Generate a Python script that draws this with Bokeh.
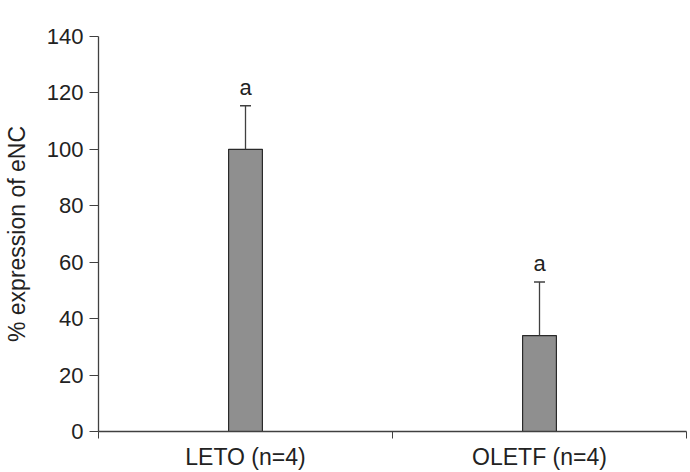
from bokeh.plotting import figure
from bokeh.models import ColumnDataSource, FixedTicker, Range1d
from bokeh.core.properties import value
from bokeh.embed import file_html
from bokeh.resources import INLINE

categories = ["LETO (n=4)", "OLETF (n=4)"]
means = [100, 34]
errors = [15.5, 19]
letters = ["a", "a"]

xpos = [i + 0.5 for i in range(len(categories))]
upper = [m + e for m, e in zip(means, errors)]

src = ColumnDataSource(dict(x=xpos, top=means, upper=upper, lab=letters))

p = figure(width=690, height=472, output_backend="svg", toolbar_location=None,
           x_range=Range1d(0, 2), y_range=Range1d(0, 140),
           min_border_left=97, min_border_right=4, min_border_top=36, min_border_bottom=40)
p.outline_line_color = None
p.grid.grid_line_color = None
p.background_fill_color = "white"

p.vbar(x="x", top="top", width=0.115, bottom=0, source=src,
       fill_color="#8f8f8f", line_color="#2a2a2a", line_width=1.2)
p.segment(x0="x", y0="top", x1="x", y1="upper", source=src, line_color="#404040", line_width=1.3)
p.dash(x="x", y="upper", source=src, size=11, line_color="#404040", line_width=1.5)
p.text(x="x", y="upper", text="lab", source=src, text_align="center", text_baseline="bottom",
       y_offset=-6, text_font=value("Liberation Sans"), text_font_size="22px", text_color="#222222")

font = "Liberation Sans"
p.yaxis.ticker = FixedTicker(ticks=[0, 20, 40, 60, 80, 100, 120, 140])
p.yaxis.axis_label = "% expression of eNC"
p.yaxis.axis_label_text_font = font
p.yaxis.axis_label_text_font_style = "normal"
p.yaxis.axis_label_text_font_size = "23px"
p.yaxis.axis_label_text_color = "#222222"
p.yaxis.axis_label_standoff = 14
p.yaxis.major_label_text_font = font
p.yaxis.major_label_text_font_size = "22px"
p.yaxis.major_label_text_color = "#222222"
p.yaxis.major_label_standoff = 6
p.yaxis.major_tick_out = 9
p.yaxis.major_tick_in = 0
p.yaxis.minor_tick_line_color = None
p.yaxis.axis_line_color = "#404040"
p.yaxis.major_tick_line_color = "#404040"
p.yaxis.axis_line_width = 1.3

p.xaxis.ticker = FixedTicker(ticks=xpos, minor_ticks=[0, 1, 2])
p.xaxis.major_label_overrides = {x: c for x, c in zip(xpos, categories)}
p.xaxis.major_tick_line_color = None
p.xaxis.major_tick_out = 0
p.xaxis.minor_tick_out = 7
p.xaxis.minor_tick_in = 0
p.xaxis.minor_tick_line_color = "#404040"
p.xaxis.axis_line_color = "#404040"
p.xaxis.axis_line_width = 1.3
p.xaxis.major_label_text_font = font
p.xaxis.major_label_text_font_size = "23px"
p.xaxis.major_label_text_color = "#222222"
p.xaxis.major_label_standoff = 5

open("out.html", "w").write(file_html(p, INLINE))
